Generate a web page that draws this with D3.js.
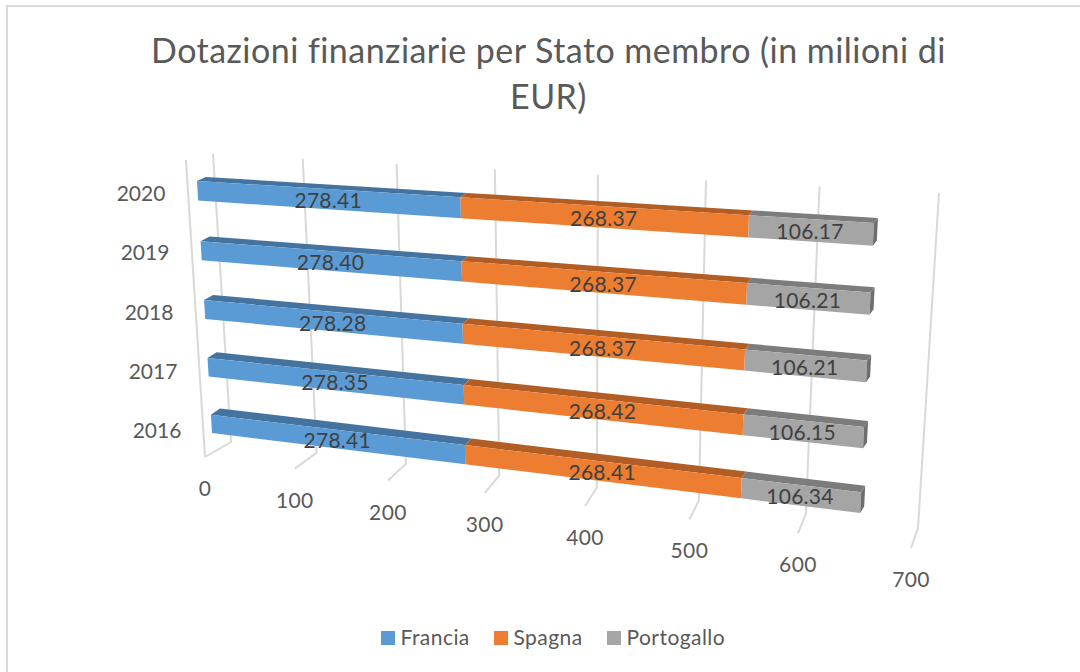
<!DOCTYPE html>
<html>
<head>
<meta charset="utf-8">
<script src="https://cdnjs.cloudflare.com/ajax/libs/d3/7.8.5/d3.min.js"></script>
<style>
  html, body { margin: 0; padding: 0; background: #fff; overflow: hidden; }
  svg { display: block; }
  text { font-family: Lato, "Open Sans", sans-serif; }
</style>
</head>
<body>
<svg id="chart" width="1080" height="672"></svg>
<script>
const titleLines = ['Dotazioni finanziarie per Stato membro (in milioni di', 'EUR)']
const years = ['2020', '2019', '2018', '2017', '2016']
const seriesNames = ['Francia', 'Spagna', 'Portogallo']
const francia = [278.41, 278.40, 278.28, 278.35, 278.41]
const spagna = [268.37, 268.37, 268.37, 268.42, 268.41]
const portogallo = [106.17, 106.21, 106.21, 106.15, 106.34]
const valueTicks = [0, 100, 200, 300, 400, 500, 600, 700]

const frontColors = ['#5b9bd5', '#ed7d31', '#a5a5a5']
const topColors = ['#44739f', '#b15d24', '#7c7c7c']
const endColor = '#6e6e6e'
const gridColor = '#d9d9d9'

// maps the unit square to a quad (corners: tl, tr, br, bl), gives the perspective look
function quadProjection (q) {
  const [[x0, y0], [x1, y1], [x2, y2], [x3, y3]] = q
  const dx1 = x1 - x2, dx2 = x3 - x2, sx = x0 - x1 + x2 - x3
  const dy1 = y1 - y2, dy2 = y3 - y2, sy = y0 - y1 + y2 - y3
  const den = dx1 * dy2 - dx2 * dy1
  const g = (sx * dy2 - dx2 * sy) / den
  const h = (dx1 * sy - sx * dy1) / den
  const a = x1 - x0 + g * x1, b = x3 - x0 + h * x3
  const d = y1 - y0 + g * y1, e = y3 - y0 + h * y3
  return (u, v) => {
    const w = g * u + h * v + 1
    return [(a * u + b * v + x0) / w, (d * u + e * v + y0) / w]
  }
}

const svg = d3.select('#chart')
const outline = d3.line()

// chart frame, only top and left are inside the picture
svg.append('rect')
  .attr('x', 7).attr('y', 6)
  .attr('width', 1200).attr('height', 800)
  .attr('fill', 'none')
  .attr('stroke', gridColor)
  .attr('stroke-width', 2)

svg.append('g').selectAll('text')
  .data(titleLines)
  .join('text')
    .attr('x', 548.5)
    .attr('y', (d, i) => 63 + i * 45.5)
    .attr('text-anchor', 'middle')
    .attr('font-size', 34)
    .attr('letter-spacing', 0.45)
    .attr('fill', '#595959')
    .text(d => d)

// walls of the 3d box
const gridU = d3.scaleLinear().domain([0, 700]).range([0, 1])
const wall = quadProjection([[213, 154], [939, 193], [918, 528], [231, 442]])
const floor = quadProjection([[231, 442], [918, 528], [911, 548], [205, 457]])

const grid = svg.append('g')
  .attr('fill', 'none')
  .attr('stroke', gridColor)
  .attr('stroke-width', 2)

grid.selectAll('path')
  .data(valueTicks)
  .join('path')
    .attr('d', d => outline([wall(gridU(d), 0), wall(gridU(d), 1), floor(gridU(d), 1)]))

// side line of the 0 gridplane
grid.append('path')
  .attr('d', outline([floor(gridU(0), 1), [186, 160]]))

svg.append('g').selectAll('text')
  .data(valueTicks)
  .join('text')
    .attr('x', d => floor(gridU(d), 1)[0])
    .attr('y', d => floor(gridU(d), 1)[1] + 39)
    .attr('text-anchor', 'middle')
    .attr('font-size', 21)
    .attr('letter-spacing', 0.4)
    .attr('fill', '#595959')
    .text(d => d)

// bars, front face and back edge of the box each get a projection
const barU = d3.scaleLinear().domain([0, 653]).range([0, 1])
const barV = d3.scaleBand().domain(years).range([0, 1]).paddingInner(0.676)
const barFront = quadProjection([[197, 181], [874, 223], [860, 513], [212, 433]])
const barBack = quadProjection([[206, 177], [878, 218], [864, 506.5], [221, 426.5]])

const series = [francia, spagna, portogallo]
const rows = years.map((year, r) => {
  let sum = 0
  return series.map((values, s) => {
    const seg = { year, s, value: values[r], start: sum, end: sum + values[r] }
    sum = seg.end
    return seg
  })
})

const bars = svg.append('g')
rows.forEach(row => {
  const g = bars.append('g')
  row.forEach(seg => {
    const v0 = barV(seg.year)
    const v1 = v0 + barV.bandwidth()
    const u0 = barU(seg.start)
    const u1 = barU(seg.end)

    g.append('path')
      .attr('fill', topColors[seg.s])
      .attr('d', outline([barFront(u0, v0), barBack(u0, v0), barBack(u1, v0), barFront(u1, v0)]) + 'Z')
    g.append('path')
      .attr('fill', frontColors[seg.s])
      .attr('d', outline([barFront(u0, v0), barFront(u1, v0), barFront(u1, v1), barFront(u0, v1)]) + 'Z')

    if (seg.s === row.length - 1) {
      g.append('path')
        .attr('fill', endColor)
        .attr('d', outline([barFront(u1, v0), barBack(u1, v0), barBack(u1, v1), barFront(u1, v1)]) + 'Z')
    }
  })
})

// value labels go last so they sit over neighbouring bars
const labels = svg.append('g')
rows.forEach(row => {
  row.forEach(seg => {
    const v = barV(seg.year) + barV.bandwidth() / 2
    const a = barFront(barU(seg.start), v)
    const b = barFront(barU(seg.end), v)
    labels.append('text')
      .attr('x', (a[0] + b[0]) / 2 - 1)
      .attr('y', (a[1] + b[1]) / 2 + 9)
      .attr('text-anchor', 'middle')
      .attr('font-size', 21)
      .attr('letter-spacing', 0.25)
      .attr('fill', '#404040')
      .text(seg.value.toFixed(2))
  })
})

// category labels step down and to the right along the box edge
const yearX = d3.scalePoint().domain(years).range([141, 157])
const yearY = d3.scalePoint().domain(years).range([201, 438])

svg.append('g').selectAll('text')
  .data(years)
  .join('text')
    .attr('x', d => yearX(d))
    .attr('y', d => yearY(d))
    .attr('text-anchor', 'middle')
    .attr('font-size', 21)
    .attr('fill', '#595959')
    .text(d => d)

// legend
const legendX = d3.scaleOrdinal().domain(seriesNames).range([381, 494, 607])
const legend = svg.append('g').selectAll('g')
  .data(seriesNames)
  .join('g')
    .attr('transform', d => `translate(${legendX(d)}, 631)`)

legend.append('rect')
  .attr('width', 14)
  .attr('height', 14)
  .attr('fill', (d, i) => frontColors[i])

legend.append('text')
  .attr('x', 19.5)
  .attr('y', 14)
  .attr('font-size', 21)
  .attr('letter-spacing', 0.45)
  .attr('fill', '#595959')
  .text(d => d)
</script>
</body>
</html>
